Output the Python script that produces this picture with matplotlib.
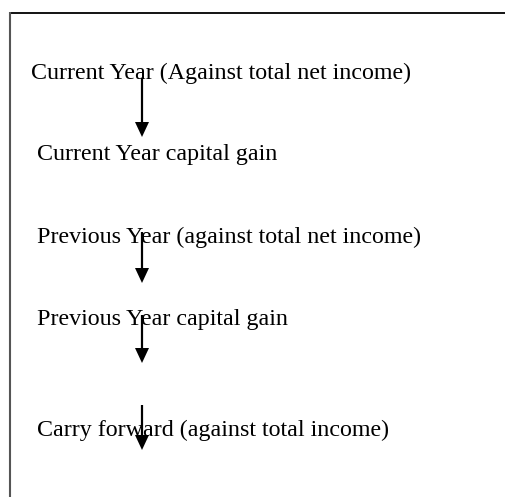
import matplotlib
matplotlib.use("Agg")
import matplotlib.pyplot as plt

# flow chart of loss set-off order
labels = [
    "Current Year (Against total net income)",
    "Current Year capital gain",
    "Previous Year (against total net income)",
    "Previous Year capital gain",
    "Carry forward (against total income)",
]
label_x = [31, 37, 37, 37, 37]
label_base = [79, 160, 243, 325, 436]

arrow_x = 142
arrow_start = [78, 232, 315, 405]
arrow_end = [137, 283, 363, 450]

W, H = 506, 497
fig = plt.figure(figsize=(W / 100, H / 100), dpi=100)
ax = fig.add_axes([0, 0, 1, 1])
ax.set_xlim(0, W)
ax.set_ylim(H, 0)
ax.axis("off")

# frame: only top and left sides are visible
ax.plot([10, W], [12.5, 12.5], color="black", lw=1.3, solid_capstyle="butt")
ax.plot([10.5, 10.5], [12, H], color="#555555", lw=1.5, solid_capstyle="butt")

for txt, x, y in zip(labels, label_x, label_base):
    ax.text(x, y, txt, fontsize=17.3, family="Liberation Serif",
            ha="left", va="baseline", color="black")

for y0, y1 in zip(arrow_start, arrow_end):
    ax.arrow(arrow_x, y0, 0, y1 - y0, width=2.2, head_width=14, head_length=15,
             length_includes_head=True, color="black", lw=0)

fig.savefig("out.png", dpi=100)
